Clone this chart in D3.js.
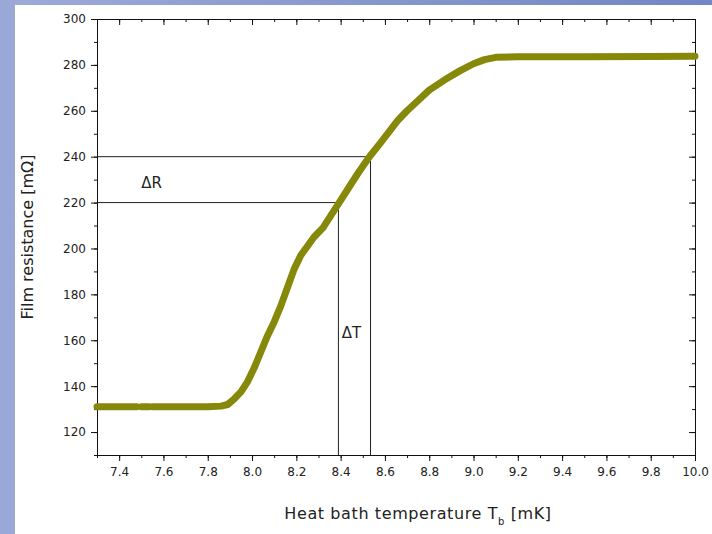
<!DOCTYPE html>
<html>
<head>
<meta charset="utf-8">
<script src="https://cdn.jsdelivr.net/npm/d3@7"></script>
<style>
  body { margin: 0; }
  svg { display: block; }
  .axis text { font-family: "DejaVu Sans", sans-serif; font-size: 12px; fill: #222; }
  .axis path, .axis line { stroke: #111; }
</style>
</head>
<body>
<div id="chart"></div>
<script>
// temperature readings [mK] and film resistance [mOhm]; null = small gap in the record
var temps = [7.30, 7.40, 7.48, null, 7.50, 7.535, null, 7.55, 7.70, 7.80, 7.86, 7.89, 7.92, 7.95, 7.98,
    8.01, 8.04, 8.07, 8.10, 8.13, 8.16, 8.19, 8.22, 8.25, 8.28, 8.32, 8.36, 8.40, 8.44, 8.48,
    8.53, 8.58, 8.62, 8.66, 8.70, 8.75, 8.80, 8.87, 8.94, 9.00, 9.05, 9.10, 9.20, 9.50, 9.80, 10.00];
var resist = [131, 131, 131, null, 131, 131, null, 131, 131, 131, 131.3, 132, 134.5, 137.5, 142,
    148, 155, 162, 168, 175, 183, 191, 197, 201, 205, 209, 215, 221, 227, 233,
    240, 246, 251, 256, 260, 264.5, 269, 273.5, 277.5, 280.5, 282.3, 283.3, 283.5, 283.6, 283.7, 283.8];

var x_ticks = [7.4, 7.6, 7.8, 8.0, 8.2, 8.4, 8.6, 8.8, 9.0, 9.2, 9.4, 9.6, 9.8, 10.0];
var y_ticks = [120, 140, 160, 180, 200, 220, 240, 260, 280, 300];

// the two read-off levels: [resistance, temperature]
var marks = [[220, 8.39], [240, 8.535]];

var W = 712, H = 534;
var margin = { top: 19, right: 17, bottom: 79, left: 97 },
    width = W - margin.left - margin.right,
    height = H - margin.top - margin.bottom;

var root = d3.select('#chart').append('svg')
    .attr('width', W)
    .attr('height', H);

var defs = root.append('defs');
var grad = defs.append('linearGradient').attr('id', 'bg').attr('x1', 0).attr('x2', 1).attr('y1', 0).attr('y2', 0);
grad.append('stop').attr('offset', 0).attr('stop-color', '#9eaad8');
grad.append('stop').attr('offset', 1).attr('stop-color', '#7186c4');

root.append('rect').attr('width', W).attr('height', H).attr('fill', 'url(#bg)');
root.append('rect').attr('width', 15).attr('height', H).attr('fill', '#9aa8d8');
root.append('rect').attr('x', 15).attr('y', 5).attr('width', W - 15).attr('height', H - 5).attr('fill', '#fff');

var svg = root.append('g')
    .attr('transform', 'translate(' + margin.left + ',' + margin.top + ')');

var x = d3.scaleLinear().domain([7.3, 10.0]).range([0, width]);
var y = d3.scaleLinear().domain([110, 300]).range([height, 0]);

var x_minor = d3.range(73, 101).map(d => d / 10);
var y_minor = d3.range(110, 301, 10);

// minor ticks first, then major ticks with labels
svg.append('g').attr('class', 'axis')
    .attr('transform', `translate(0,${height})`)
    .call(d3.axisBottom(x).tickValues(x_minor).tickSize(3).tickSizeOuter(0).tickFormat(''));
svg.append('g').attr('class', 'axis')
    .attr('transform', `translate(0,${height})`)
    .call(d3.axisBottom(x).tickValues(x_ticks).tickSize(6).tickSizeOuter(0).tickPadding(6).tickFormat(d3.format('.1f')));

svg.append('g').attr('class', 'axis')
    .call(d3.axisLeft(y).tickValues(y_minor).tickSize(3).tickSizeOuter(0).tickFormat(''));
svg.append('g').attr('class', 'axis')
    .call(d3.axisLeft(y).tickValues(y_ticks).tickSize(6).tickSizeOuter(0).tickPadding(5));

svg.append('g').attr('class', 'axis')
    .call(d3.axisTop(x).tickValues(x_minor).tickSize(-3).tickSizeOuter(0).tickFormat(''));
svg.append('g').attr('class', 'axis')
    .call(d3.axisTop(x).tickValues(x_ticks).tickSize(-6).tickSizeOuter(0).tickFormat(''));

svg.append('g').attr('class', 'axis')
    .attr('transform', `translate(${width},0)`)
    .call(d3.axisRight(y).tickValues(y_minor).tickSize(-3).tickSizeOuter(0).tickFormat(''));
svg.append('g').attr('class', 'axis')
    .attr('transform', `translate(${width},0)`)
    .call(d3.axisRight(y).tickValues(y_ticks).tickSize(-6).tickSizeOuter(0).tickFormat(''));

// read-off lines
marks.forEach(function (m) {
    svg.append('line')
        .attr('x1', 0).attr('x2', x(m[1]))
        .attr('y1', y(m[0])).attr('y2', y(m[0]))
        .attr('stroke', '#222').attr('stroke-width', 1);
    svg.append('line')
        .attr('x1', x(m[1])).attr('x2', x(m[1]))
        .attr('y1', y(m[0])).attr('y2', height)
        .attr('stroke', '#222').attr('stroke-width', 1);
});

// curve
var pts = temps.map((t, i) => [t, resist[i]]);
var line = d3.line()
    .defined(d => d[0] !== null)
    .x(d => x(d[0]))
    .y(d => y(d[1]));

svg.append('path')
    .datum(pts)
    .attr('d', line)
    .attr('fill', 'none')
    .attr('stroke', '#86880a')
    .attr('stroke-width', 7)
    .attr('stroke-linecap', 'round')
    .attr('stroke-linejoin', 'round');

// labels
svg.append('text')
    .attr('x', x(7.5)).attr('y', y(226.5))
    .attr('font-family', 'DejaVu Sans, sans-serif').attr('font-size', 15).attr('fill', '#222')
    .text('\u0394R');
svg.append('text')
    .attr('x', x(8.405)).attr('y', y(161))
    .attr('font-family', 'DejaVu Sans, sans-serif').attr('font-size', 15).attr('fill', '#222')
    .text('\u0394T');

svg.append('text')
    .attr('transform', `translate(${-64},${height / 2}) rotate(-90)`)
    .attr('text-anchor', 'middle')
    .attr('font-family', 'DejaVu Sans, sans-serif').attr('font-size', 16).attr('fill', '#222')
    .text('Film resistance [m\u03a9]');

var xt = svg.append('text')
    .attr('x', width / 2 + 22).attr('y', height + 64)
    .attr('text-anchor', 'middle')
    .attr('font-family', 'DejaVu Sans, sans-serif').attr('font-size', 16).attr('letter-spacing', 0.6).attr('fill', '#222');
xt.append('tspan').text('Heat bath temperature T');
xt.append('tspan').attr('font-size', 10).attr('dy', 6).text('b');
xt.append('tspan').attr('dy', -6).text(' [mK]');
</script>
</body>
</html>
